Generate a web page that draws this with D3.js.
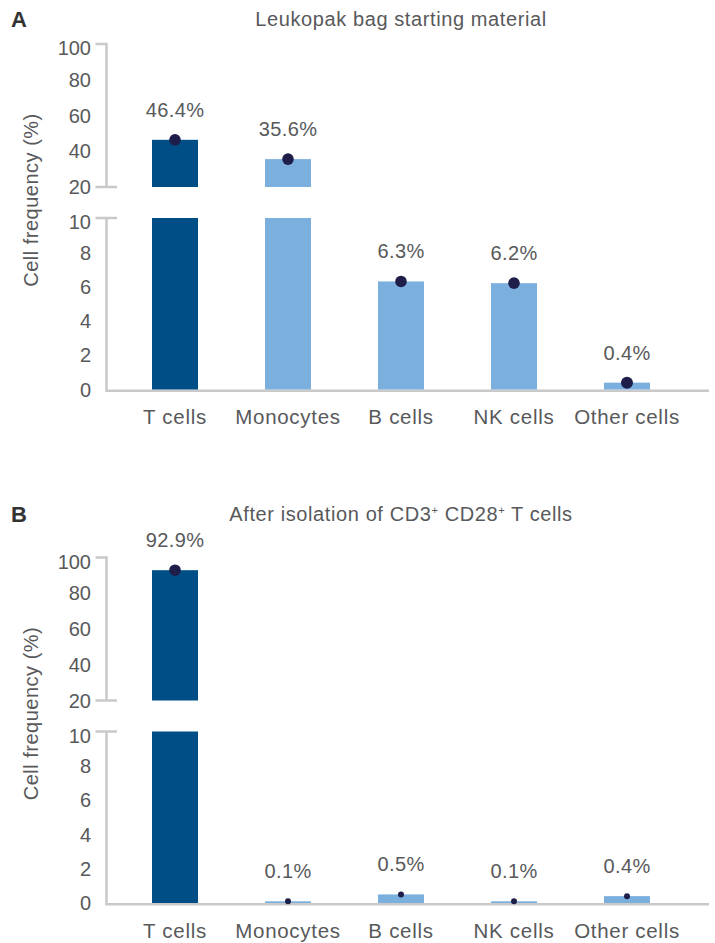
<!DOCTYPE html>
<html>
<head>
<meta charset="utf-8">
<script src="https://cdn.jsdelivr.net/npm/d3@7"></script>
<style>
  body { margin: 0; background: #fff; }
  text { font-family: "Liberation Sans", Arial, sans-serif; fill: #58595b; }
</style>
</head>
<body>
<div class="canvas"></div>
<script>
// data
const categories = ['T cells', 'Monocytes', 'B cells', 'NK cells', 'Other cells'];
const leukopakValues = [46.4, 35.6, 6.3, 6.2, 0.4];
const isolatedValues = [92.9, 0.1, 0.5, 0.1, 0.4];
const upperTicks = [20, 40, 60, 80, 100];
const lowerTicks = [0, 2, 4, 6, 8, 10];

const panels = [
  { letter: 'A', title: ['Leukopak bag starting material'], values: leukopakValues, top: 0, headY: 26, smallDot: 6 },
  { letter: 'B', title: ['After isolation of CD3', '+', ' CD28', '+', ' T cells'], values: isolatedValues, top: 513.5, headY: 7.5, smallDot: 3 }
];

const svg = d3.select('.canvas')
  .append('svg')
  .attr('width', 715)
  .attr('height', 943);

const darkBlue = '#004e86';
const lightBlue = '#7aafde';
const dotColor = '#1f1e4b';
const axisColor = '#c9c9c9';

// broken y axis: upper part 20-100, lower part 0-10
const yUpper = d3.scaleLinear().domain([20, 100]).range([187, 44]);
const yLower = d3.scaleLinear().domain([0, 10]).range([389.5, 218]);

const x = d3.scaleBand()
  .domain(categories)
  .range([118.5, 683.5])
  .paddingInner(0.593)
  .paddingOuter(0.2965);

const axisX = 106.5;

panels.forEach(p => {
  const g = svg.append('g').attr('transform', `translate(0, ${p.top})`);

  // panel letter
  g.append('text')
    .attr('x', 11).attr('y', p.headY - 2 + 3)
    .style('font-size', '22px').style('font-weight', 'bold')
    .style('fill', '#333')
    .text(p.letter);

  // title (with superscripts for panel B)
  const title = g.append('text')
    .attr('x', 401).attr('y', p.headY)
    .attr('text-anchor', 'middle')
    .style('font-size', '20px')
    .style('letter-spacing', '0.6px');
  p.title.forEach(t => {
    const span = title.append('tspan').text(t);
    if (t === '+') span.attr('dy', -7).style('font-size', '11px');
    else if (t.startsWith(' ')) span.attr('dy', 7);
  });

  // y axis label
  g.append('text')
    .attr('transform', `translate(38, 200) rotate(-90)`)
    .attr('text-anchor', 'middle')
    .style('font-size', '20px')
    .style('letter-spacing', '0.5px')
    .text('Cell frequency (%)');

  // axis lines
  const ax = g.append('g')
    .attr('fill', 'none')
    .attr('stroke', axisColor)
    .attr('stroke-width', 2.5);

  ax.append('path')
    .attr('d', `M95.5,${yUpper(100)}H${axisX}V${yUpper(20)}M95.5,${yUpper(20)}H117`);
  ax.append('path')
    .attr('d', `M95.5,${yLower(10)}H117M${axisX},${yLower(10)}V${yLower(0) + 1.3}H709`);

  // tick labels
  const tickLabels = upperTicks.map(v => ({ v, y: yUpper(v) }))
    .concat(lowerTicks.map(v => ({ v, y: yLower(v) })));
  g.selectAll('.tick-label')
    .data(tickLabels)
    .enter().append('text')
    .attr('class', 'tick-label')
    .attr('x', 91)
    .attr('y', d => d.y + (d.v === 100 || d.v === 10 ? 4 : 0))
    .attr('dy', '0.36em')
    .attr('text-anchor', 'end')
    .style('font-size', '20px')
    .text(d => d.v);

  // bars: lower segment (0 to min(v,10)) and upper segment (20 to v) when v > 20
  const bars = g.append('g');
  bars.selectAll('.lower')
    .data(p.values)
    .enter().append('rect')
    .attr('x', (d, i) => x(categories[i]))
    .attr('width', x.bandwidth())
    .attr('y', d => yLower(Math.min(d, 10)))
    .attr('height', d => yLower(0) - yLower(Math.min(d, 10)))
    .attr('fill', (d, i) => i === 0 ? darkBlue : lightBlue);

  bars.selectAll('.upper')
    .data(p.values.map((v, i) => ({ v, i })).filter(d => d.v > 20))
    .enter().append('rect')
    .attr('x', d => x(categories[d.i]))
    .attr('width', x.bandwidth())
    .attr('y', d => yUpper(d.v))
    .attr('height', d => yUpper(20) - yUpper(d.v))
    .attr('fill', d => d.i === 0 ? darkBlue : lightBlue);

  const yVal = v => v > 20 ? yUpper(v) : yLower(v);

  // dots
  g.selectAll('.dot')
    .data(p.values)
    .enter().append('circle')
    .attr('cx', (d, i) => x(categories[i]) + x.bandwidth() / 2)
    .attr('cy', d => yVal(d))
    .attr('r', d => d > 1 ? 5.8 : p.smallDot)
    .attr('fill', dotColor);

  // value labels
  g.selectAll('.value')
    .data(p.values)
    .enter().append('text')
    .attr('x', (d, i) => x(categories[i]) + x.bandwidth() / 2)
    .attr('y', d => yVal(d) - 23)
    .attr('text-anchor', 'middle')
    .style('font-size', '20px')
    .style('letter-spacing', '0.4px')
    .text(d => `${d}%`);

  // category labels
  g.selectAll('.cat')
    .data(categories)
    .enter().append('text')
    .attr('x', d => x(d) + x.bandwidth() / 2)
    .attr('y', 424)
    .attr('text-anchor', 'middle')
    .style('font-size', '20.5px')
    .style('letter-spacing', '0.7px')
    .text(d => d);
});
</script>
</body>
</html>
